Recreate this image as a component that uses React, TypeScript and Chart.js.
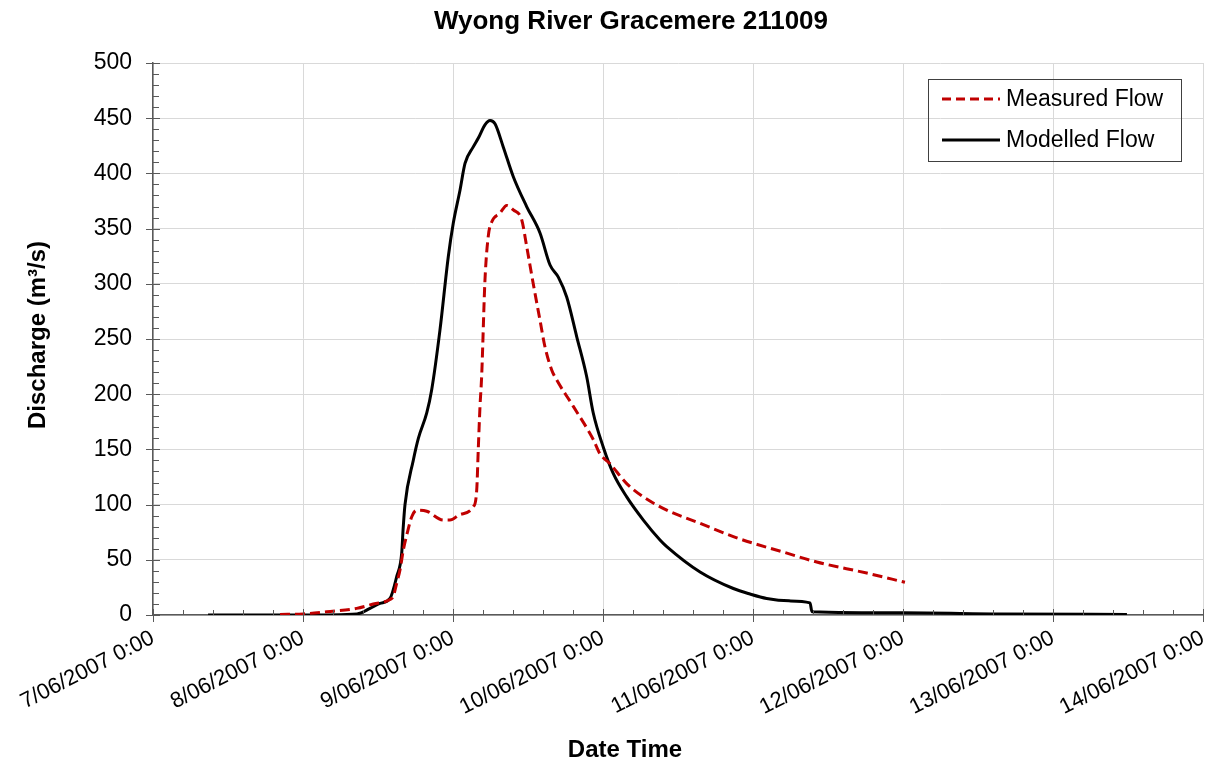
import React, { useEffect, useRef } from "react";
import { Chart, registerables } from "chart.js";

Chart.register(...registerables);

const chartTitle = "Wyong River Gracemere 211009";
const xAxisTitle = "Date Time";
const yAxisTitle = "Discharge (m³/s)";
const dayLabels = [
  "7/06/2007 0:00",
  "8/06/2007 0:00",
  "9/06/2007 0:00",
  "10/06/2007 0:00",
  "11/06/2007 0:00",
  "12/06/2007 0:00",
  "13/06/2007 0:00",
  "14/06/2007 0:00",
];

// x values are days after 7/06/2007 0:00
const measuredDays = [0.847, 1.0, 1.158, 1.358, 1.469, 1.58, 1.602, 1.625, 1.647, 1.669, 1.691, 1.725, 1.758, 1.825, 1.935, 1.98, 2.047, 2.135, 2.158, 2.169, 2.18, 2.191, 2.213, 2.235, 2.258, 2.313, 2.358, 2.402, 2.458, 2.491, 2.535, 2.58, 2.613, 2.658, 2.691, 2.802, 2.935, 2.98, 3.047, 3.158, 3.269, 3.425, 3.647, 3.869, 4.002, 4.202, 4.425, 4.758, 5.013];
const measuredFlow = [0.5, 1, 3, 6, 10, 14, 17, 29, 41, 59, 72, 89, 95, 94, 86, 86, 91, 98, 113, 152, 189, 216, 303, 343, 356, 364, 371, 367, 358, 334, 300, 267, 243, 222, 213, 189, 159, 146, 137, 119, 107, 95, 83, 71, 65, 57, 48, 38, 29.6];

const modelledDays = [0.367, 0.5, 1.0, 1.36, 1.447, 1.513, 1.58, 1.625, 1.658, 1.667, 1.68, 1.735, 1.769, 1.825, 1.858, 1.913, 1.969, 2.002, 2.047, 2.08, 2.135, 2.169, 2.213, 2.247, 2.28, 2.335, 2.402, 2.491, 2.58, 2.647, 2.702, 2.758, 2.825, 2.891, 2.935, 3.002, 3.069, 3.158, 3.269, 3.38, 3.425, 3.647, 3.869, 3.98, 4.091, 4.24, 4.38, 4.393, 5.0, 5.647, 6.493];
const modelledFlow = [0, 0, 0, 1, 6, 10.5, 15, 35, 56, 77, 100, 140, 160, 183, 204, 258, 325, 355, 385, 409, 424, 432, 444, 448, 445, 424, 397, 370, 346, 317, 306, 288, 252, 216, 183, 152, 128, 107, 86, 68, 62, 39, 24, 19, 15, 12.8, 11, 3, 2, 1, 0.5];

const seriesNames = ["Measured Flow", "Modelled Flow"];
const seriesColors = ["#C00000", "#000000"];

const FONT = "'Liberation Sans', Arial, sans-serif";
const AXIS_COLOR = "#595959";

const decorPlugin = {
  id: "decor",
  afterDraw(chart: any) {
    const { ctx, chartArea, scales } = chart;
    const x = scales.x;
    const y = scales.y;
    ctx.save();
    ctx.strokeStyle = AXIS_COLOR;
    ctx.lineWidth = 1;
    // x ticks: major every day (crossing), minor every 0.2 day (inside)
    for (let i = 0; i <= 35; i++) {
      const v = i / 5;
      const px = Math.round(x.getPixelForValue(v)) + 0.5;
      ctx.beginPath();
      if (i % 5 === 0) {
        ctx.moveTo(px, chartArea.bottom - 6);
        ctx.lineTo(px, chartArea.bottom + 7);
      } else {
        ctx.moveTo(px, chartArea.bottom - 5);
        ctx.lineTo(px, chartArea.bottom);
      }
      ctx.stroke();
    }
    // y ticks: major every 50 (crossing), minor every 10 (inside)
    for (let v = 0; v <= 500; v += 10) {
      const py = Math.round(y.getPixelForValue(v)) + 0.5;
      ctx.beginPath();
      if (v % 50 === 0) {
        ctx.moveTo(chartArea.left - 7, py);
        ctx.lineTo(chartArea.left + 7, py);
      } else {
        ctx.moveTo(chartArea.left, py);
        ctx.lineTo(chartArea.left + 6, py);
      }
      ctx.stroke();
    }
    // titles
    ctx.fillStyle = "#000";
    ctx.textAlign = "center";
    ctx.textBaseline = "middle";
    ctx.font = `bold 26px ${FONT}`;
    ctx.fillText(chartTitle, 631, 22);
    ctx.font = `bold 24px ${FONT}`;
    ctx.fillText(xAxisTitle, 625, 750);
    ctx.save();
    ctx.translate(38, 335);
    ctx.rotate(-Math.PI / 2);
    ctx.fillText(yAxisTitle, 0, 0);
    ctx.restore();
    // legend
    const lx = chartArea.right - 275;
    const ly = chartArea.top + 16;
    ctx.strokeStyle = "#404040";
    ctx.lineWidth = 1;
    ctx.strokeRect(lx + 0.5, ly + 0.5, 253, 82);
    ctx.font = `23px ${FONT}`;
    ctx.textAlign = "left";
    const rows = [ly + 20, ly + 61];
    for (let k = 0; k < 2; k++) {
      ctx.beginPath();
      ctx.strokeStyle = seriesColors[k];
      ctx.lineWidth = 3;
      ctx.setLineDash(k === 0 ? [9, 5] : []);
      ctx.moveTo(lx + 14, rows[k]);
      ctx.lineTo(lx + 72, rows[k]);
      ctx.stroke();
      ctx.setLineDash([]);
      ctx.fillStyle = "#000";
      ctx.fillText(seriesNames[k], lx + 78, rows[k] + 1);
    }
    ctx.restore();
  },
};

export default function App() {
  const ref = useRef<HTMLCanvasElement | null>(null);
  useEffect(() => {
    if (!ref.current) return;
    const measured = measuredDays.map((d, i) => ({ x: d, y: measuredFlow[i] }));
    const modelled = modelledDays.map((d, i) => ({ x: d, y: modelledFlow[i] }));
    const chart = new Chart(ref.current, {
      type: "line",
      data: {
        datasets: [
          {
            label: seriesNames[0],
            data: measured,
            borderColor: seriesColors[0],
            borderWidth: 3,
            borderDash: [10, 5],
            pointRadius: 0,
            cubicInterpolationMode: "monotone",
            fill: false,
          },
          {
            label: seriesNames[1],
            data: modelled,
            borderColor: seriesColors[1],
            borderWidth: 3,
            pointRadius: 0,
            cubicInterpolationMode: "monotone",
            fill: false,
          },
        ],
      },
      options: {
        animation: false,
        responsive: true,
        maintainAspectRatio: false,
        layout: { padding: { top: 63, left: 0, right: 10, bottom: 0 } },
        plugins: {
          legend: { display: false },
          title: { display: false },
          tooltip: { enabled: false },
        },
        scales: {
          x: {
            type: "linear",
            min: 0,
            max: 7,
            afterFit: (s: any) => {
              s.height = 150;
              s.paddingLeft = 0;
              s.paddingRight = 0;
            },
            grid: { color: "#d9d9d9", drawTicks: false, lineWidth: 1 },
            border: { color: AXIS_COLOR, width: 1.5 },
            ticks: {
              stepSize: 1,
              autoSkip: false,
              minRotation: 27,
              maxRotation: 27,
              padding: 10,
              color: "#000",
              font: { family: FONT, size: 22 },
              callback: (v: any) => dayLabels[Math.round(Number(v))] ?? "",
            },
          },
          y: {
            min: 0,
            max: 500,
            afterFit: (s: any) => {
              s.width = 153;
            },
            grid: { color: "#d9d9d9", drawTicks: false, lineWidth: 1 },
            border: { color: AXIS_COLOR, width: 1.5 },
            ticks: {
              stepSize: 50,
              padding: 21,
              color: "#000",
              font: { family: FONT, size: 23 },
            },
          },
        },
      },
      plugins: [decorPlugin],
    });
    return () => chart.destroy();
  }, []);
  return (
    <div style={{ position: "fixed", left: 0, top: 0, width: 1213, height: 765, background: "#fff" }}>
      <canvas ref={ref} />
    </div>
  );
}
